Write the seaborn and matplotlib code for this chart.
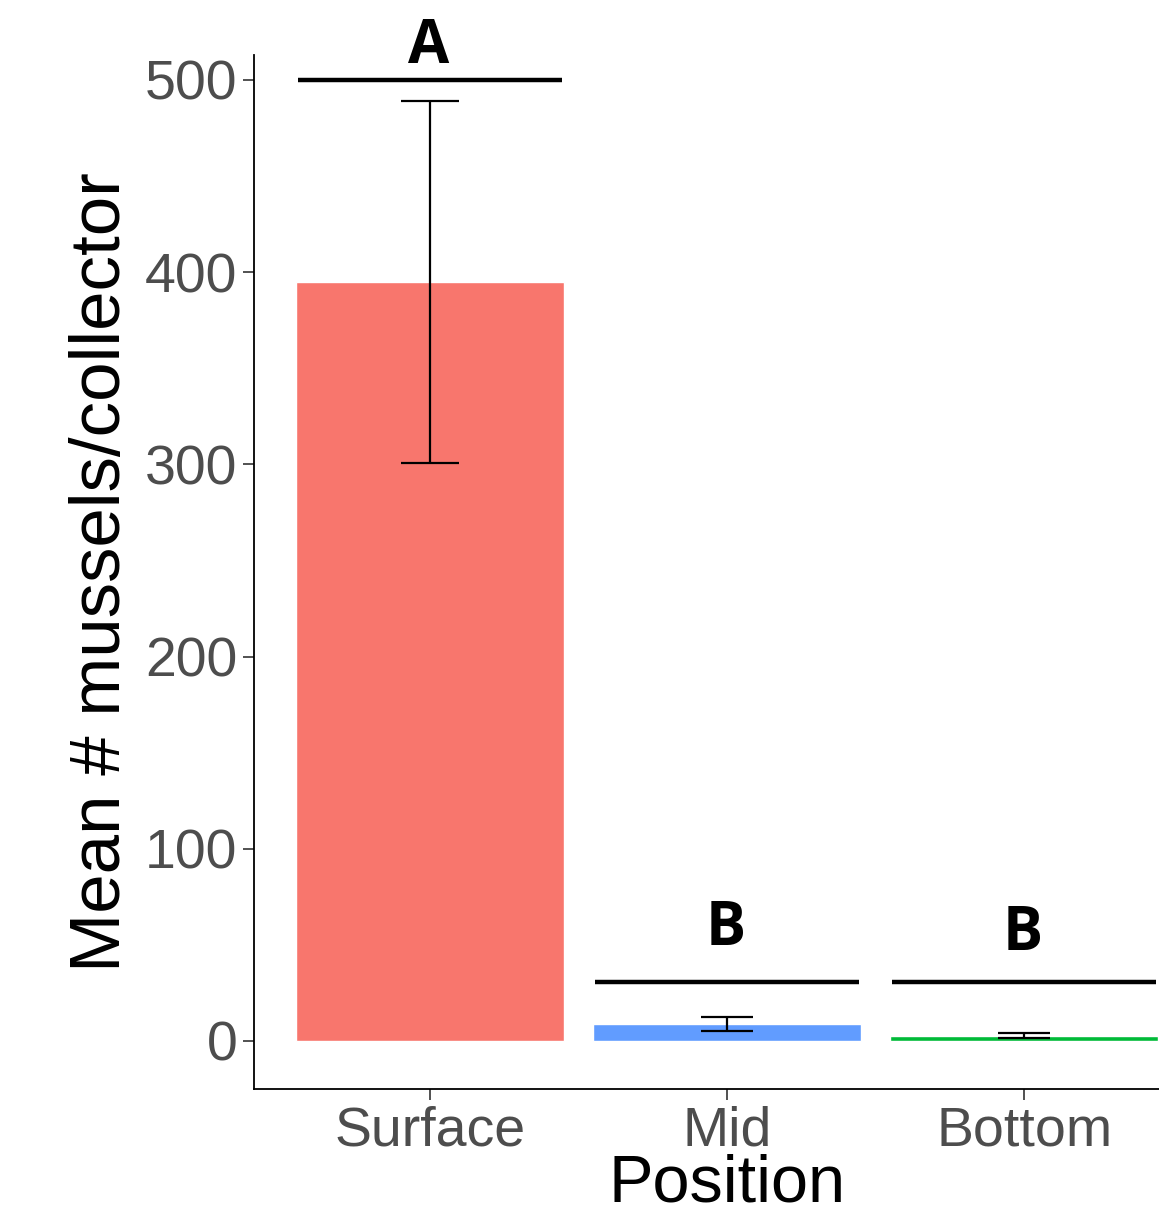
import matplotlib
matplotlib.use("Agg")
import matplotlib.pyplot as plt
import seaborn as sns
import pandas as pd

positions = ["Surface", "Mid", "Bottom"]
means = [395, 9, 2.8]
err_low = [300.7, 5.0, 1.4]
err_high = [489, 12.7, 4.3]
colors = ["#F8766D", "#619CFF", "#00BA38"]
letters = ["A", "B", "B"]
letter_line_y = [500, 30.7, 30.7]
letter_text_y = [517, 57.8, 55.2]
y_ticks = [0, 100, 200, 300, 400, 500]

sns.set_style("white")
plt.rcParams["font.family"] = ["Liberation Sans", "DejaVu Sans"]

df = pd.DataFrame({"Position": positions, "Mean": means})

fig = plt.figure(figsize=(11.59, 12.17), dpi=100)
ax = fig.add_axes([254 / 1159, 1 - 1089 / 1217, 1 - 254 / 1159, (1089 - 55) / 1217])

sns.barplot(data=df, x="Position", y="Mean", hue="Position", order=positions,
            hue_order=positions, palette=colors, width=0.9, dodge=False,
            legend=False, ax=ax, errorbar=None, saturation=1)

caps = [21, 19, 19]
for i, (m, lo, hi) in enumerate(zip(means, err_low, err_high)):
    ax.errorbar([i], [m], yerr=[[m - lo], [hi - m]], fmt="none", ecolor="black",
                elinewidth=1.6, capsize=caps[i], capthick=1.6, zorder=5)

for i, (lt, ly, ty) in enumerate(zip(letters, letter_line_y, letter_text_y)):
    ax.plot([i - 0.445, i + 0.445], [ly, ly], color="black", lw=3.2,
            solid_capstyle="butt", clip_on=False, zorder=6)
    ax.text(i - 0.005, ty, lt, ha="center", va="center", fontsize=43,
            fontweight="bold", color="black",
            family=["Open Sans", "DejaVu Sans"], clip_on=False)

ax.set_xlim(-0.593, 2.454)
ax.set_ylim(-25, 513)
ax.set_yticks(y_ticks)
ax.set_yticklabels([str(t) for t in y_ticks])

for s in ["top", "right"]:
    ax.spines[s].set_visible(False)
for s in ["left", "bottom"]:
    ax.spines[s].set_color("black")
    ax.spines[s].set_linewidth(1.3)

ax.tick_params(axis="both", which="major", length=8, width=1.2, color="#333333",
               labelsize=40, labelcolor="#4D4D4D", left=True, bottom=True, pad=4)
ax.set_xlabel("Position", fontsize=48, color="black")
ax.xaxis.set_label_coords((727 - 254) / (1159 - 254), -(1201 - 1089) / (1089 - 55))
ax.xaxis.label.set_va("baseline")
ax.set_ylabel("Mean # mussels/collector", fontsize=51, color="black")
ax.yaxis.set_label_coords(-(254 - 135) / (1159 - 254), 0.5)
ax.yaxis.label.set_va("bottom")

fig.savefig("out.png", dpi=100)
